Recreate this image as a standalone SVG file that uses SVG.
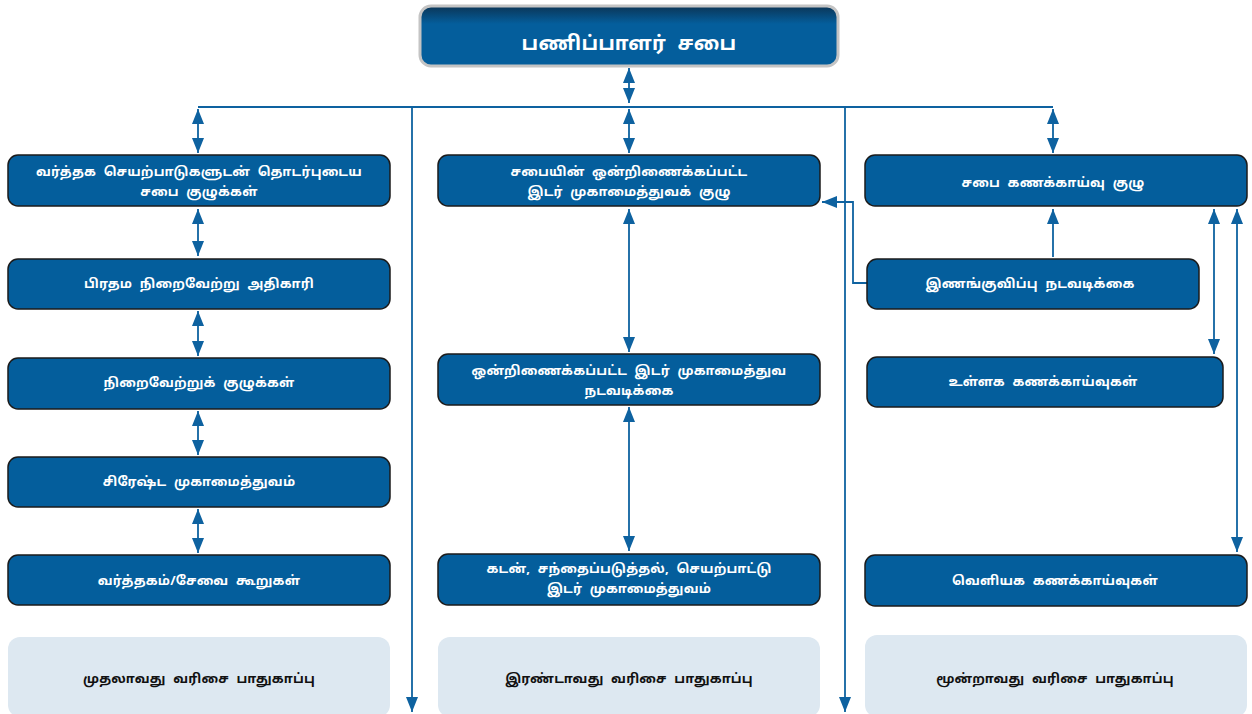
<svg xmlns="http://www.w3.org/2000/svg" width="1252" height="714" viewBox="0 0 1252 714">
<style>
.box{fill:#045e9c;stroke:#1b1b1b;stroke-width:1.5}
.lt{fill:#dde8f1}
.t{font-family:"Noto Sans","Noto Sans Tamil","Lato",sans-serif;font-size:13px;font-weight:bold;fill:#ffffff;text-anchor:middle;word-spacing:4px;letter-spacing:0.2px}
.tk{font-family:"Noto Sans","Noto Sans Tamil","Lato",sans-serif;font-size:13px;font-weight:bold;fill:#111111;text-anchor:middle;word-spacing:4px;letter-spacing:0.2px}
.c{fill:none;stroke:#0e62a0;stroke-width:1.8}
.d{marker-start:url(#ah);marker-end:url(#ah)}
.e{marker-end:url(#ah)}
</style>
<defs>
<marker id="ah" viewBox="0 0 15 12" refX="15" refY="6" markerUnits="userSpaceOnUse" markerWidth="15" markerHeight="12" orient="auto-start-reverse">
<path d="M0,0 L15,6 L0,12 z" fill="#0e62a0"/>
</marker>
<linearGradient id="tg" x1="0" y1="0" x2="0" y2="1">
<stop offset="0" stop-color="#0b3556"/>
<stop offset="0.3" stop-color="#045e9c"/>
<stop offset="1" stop-color="#045e9c"/>
</linearGradient>
</defs>
<g id="connectors">
<path class="c d" d="M629,68 V103"/>
<path class="c" d="M198,107 H1053"/>
<path class="c d" d="M198,109 V153"/>
<path class="c d" d="M629,109 V153"/>
<path class="c d" d="M1053,109 V153"/>
<path class="c e" d="M412,107 V712"/>
<path class="c e" d="M845,107 V712"/>
<path class="c d" d="M198,209 V256"/>
<path class="c d" d="M198,311 V356"/>
<path class="c d" d="M198,411 V455"/>
<path class="c d" d="M198,509 V553"/>
<path class="c d" d="M629,209 V352"/>
<path class="c d" d="M629,407 V551"/>
<path class="c e" d="M867,283 H853 V202 H822"/>
<path class="c e" d="M1053,257 V209"/>
<path class="c d" d="M1214,209 V354"/>
<path class="c d" d="M1237,209 V552"/>
</g>
<g id="board">
<rect x="420" y="6" width="418" height="60" rx="11" fill="url(#tg)" stroke="#c4c4c4" stroke-width="3"/>
<text x="629" y="50" class="t" style="font-size:20px;word-spacing:6px">பணிப்பாளர் சபை</text>
</g>
<g id="l1"><rect class="box" x="8" y="155" width="382" height="51" rx="10"/><text class="t" x="199" y="176">வர்த்தக செயற்பாடுகளுடன் தொடர்புடைய</text><text class="t" x="199" y="196">சபை குழுக்கள்</text></g>
<g id="l2"><rect class="box" x="8" y="259" width="382" height="50" rx="10"/><text class="t" x="199" y="288">பிரதம நிறைவேற்று அதிகாரி</text></g>
<g id="l3"><rect class="box" x="8" y="358" width="382" height="51" rx="10"/><text class="t" x="199" y="387">நிறைவேற்றுக் குழுக்கள்</text></g>
<g id="l4"><rect class="box" x="8" y="457" width="382" height="50" rx="10"/><text class="t" x="199" y="486">சிரேஷ்ட முகாமைத்துவம்</text></g>
<g id="l5"><rect class="box" x="8" y="555" width="382" height="50" rx="10"/><text class="t" x="199" y="585">வர்த்தகம்/சேவை கூறுகள்</text></g>
<g id="l6"><rect class="lt" x="8" y="637" width="382" height="80" rx="12"/><text class="tk" x="199" y="683">முதலாவது வரிசை பாதுகாப்பு</text></g>
<g id="m1"><rect class="box" x="438" y="155" width="382" height="51" rx="10"/><text class="t" x="629" y="176">சபையின் ஒன்றிணைக்கப்பட்ட</text><text class="t" x="629" y="196">இடர் முகாமைத்துவக் குழு</text></g>
<g id="m2"><rect class="box" x="438" y="354" width="382" height="51" rx="10"/><text class="t" x="629" y="375">ஒன்றிணைக்கப்பட்ட இடர் முகாமைத்துவ</text><text class="t" x="629" y="395">நடவடிக்கை</text></g>
<g id="m3"><rect class="box" x="438" y="554" width="382" height="51" rx="10"/><text class="t" x="629" y="573">கடன், சந்தைப்படுத்தல், செயற்பாட்டு</text><text class="t" x="629" y="593">இடர் முகாமைத்துவம்</text></g>
<g id="m4"><rect class="lt" x="438" y="637" width="382" height="80" rx="12"/><text class="tk" x="629" y="683">இரண்டாவது வரிசை பாதுகாப்பு</text></g>
<g id="r1"><rect class="box" x="865" y="155" width="382" height="51" rx="10"/><text class="t" x="1053" y="187">சபை கணக்காய்வு குழு</text></g>
<g id="r2"><rect class="box" x="867" y="259" width="332" height="50" rx="10"/><text class="t" x="1030" y="288">இணங்குவிப்பு நடவடிக்கை</text></g>
<g id="r3"><rect class="box" x="867" y="357" width="356" height="50" rx="10"/><text class="t" x="1043" y="386">உள்ளக கணக்காய்வுகள்</text></g>
<g id="r4"><rect class="box" x="865" y="555" width="382" height="51" rx="10"/><text class="t" x="1055" y="585">வெளியக கணக்காய்வுகள்</text></g>
<g id="r5"><rect class="lt" x="865" y="635" width="382" height="82" rx="12"/><text class="tk" x="1055" y="683">மூன்றாவது வரிசை பாதுகாப்பு</text></g>
</svg>
